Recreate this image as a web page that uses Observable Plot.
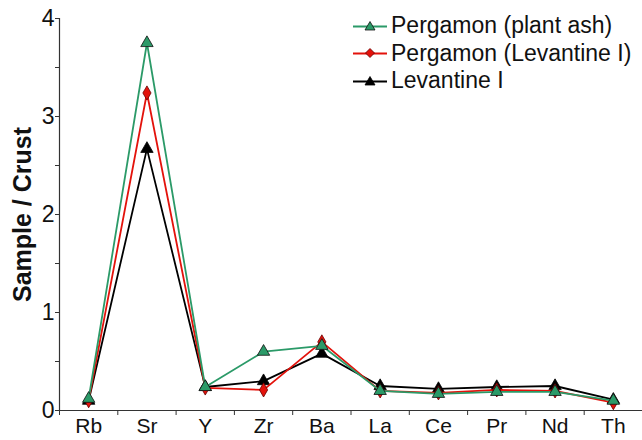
<!DOCTYPE html>
<html><head><meta charset="utf-8">
<script src="https://cdn.jsdelivr.net/npm/d3@7"></script>
<script src="https://cdn.jsdelivr.net/npm/@observablehq/plot@0.6"></script>
<style>
body{margin:0;background:#fff;font-family:"Liberation Sans",Arial,sans-serif;}
#wrap{position:relative;width:642px;height:440px;}
#legend{position:absolute;left:353px;top:12px;font-size:23px;color:#111;line-height:27.5px;}
#legend div{display:flex;align-items:center;white-space:nowrap;height:27.5px;}
#legend svg{margin-right:4px;}
</style></head>
<body><div id="wrap"><div id="legend"></div></div>
<script>
const elements = ["Rb","Sr","Y","Zr","Ba","La","Ce","Pr","Nd","Th"];
const plantAsh = [0.12,3.75,0.24,0.60,0.66,0.20,0.17,0.19,0.19,0.10];
const pergLev  = [0.10,3.24,0.23,0.21,0.70,0.20,0.18,0.21,0.20,0.08];
const levantine= [0.10,2.67,0.24,0.30,0.58,0.25,0.22,0.24,0.25,0.11];
const seriesNames = ["Pergamon (plant ash)","Pergamon (Levantine I)","Levantine I"];
const yTicks = [0,1,2,3,4];
const yMinor = [0.5,1.5,2.5,3.5];

const green="#2b9a68", red="#e3120b", black="#000";
const rows = (vals)=>vals.map((v,i)=>({i, v}));
const A=rows(plantAsh), B=rows(pergLev), C=rows(levantine);
const bounds = d3.range(elements.length+1).map(k=>k-0.5);

const chart = Plot.plot({
  width:642, height:440,
  marginLeft:59, marginRight:0, marginTop:18, marginBottom:30,
  x:{domain:[-0.5, elements.length-0.5]},
  y:{domain:[0,4]},
  style:{fontFamily:"Liberation Sans, Arial, sans-serif", color:"#111", background:"transparent"},
  marks:[
    Plot.ruleY([0],{x1:-0.5,x2:elements.length-0.5,stroke:"#333",strokeWidth:1.2}),
    Plot.ruleX([-0.5],{y1:0,y2:4,stroke:"#333",strokeWidth:1.2}),
    Plot.axisX(bounds,{tickSize:5,tickFormat:()=>"",label:null,stroke:"#333"}),
    Plot.axisX(d3.range(elements.length),{tickSize:0,tickPadding:8,tickFormat:i=>elements[i],fontSize:21,label:null}),
    Plot.axisY(yMinor,{tickSize:4,tickFormat:()=>"",label:null,stroke:"#333"}),
    Plot.axisY(yTicks,{tickSize:4,tickPadding:1,tickFormat:d3.format("d"),fontSize:23,label:null,stroke:"#333"}),
    Plot.text(["Sample / Crust"],{frameAnchor:"left",textAnchor:"middle",rotate:-90,dx:-37,fontSize:25,fontWeight:"bold",fill:"#111"}),
    Plot.line(C,{x:"i",y:"v",stroke:black,strokeWidth:1.8}),
    Plot.dot(C,{x:"i",y:"v",symbol:"triangle",r:4.6,fill:black,stroke:black,strokeWidth:0.8}),
    Plot.line(B,{x:"i",y:"v",stroke:red,strokeWidth:1.8}),
    Plot.dot(B,{x:"i",y:"v",symbol:"diamond",r:4.3,fill:red,stroke:"#600",strokeWidth:0.8}),
    Plot.line(A,{x:"i",y:"v",stroke:green,strokeWidth:1.8}),
    Plot.dot(A,{x:"i",y:"v",symbol:"triangle",r:4.6,fill:green,stroke:"#111",strokeWidth:0.8})
  ]
});
document.getElementById("wrap").prepend(chart);

const legendSpecs = [
  {name:seriesNames[0], color:green, sym:"tri", fill:green, stroke:"#111"},
  {name:seriesNames[1], color:red, sym:"dia", fill:red, stroke:"#600"},
  {name:seriesNames[2], color:black, sym:"tri", fill:black, stroke:black}
];
const leg = document.getElementById("legend");
for (const s of legendSpecs){
  const d = document.createElement("div");
  const shape = s.sym==="tri"
    ? `<path d="M17,4.5 L22,13 L12,13 Z" fill="${s.fill}" stroke="${s.stroke}" stroke-width="0.8"/>`
    : `<path d="M17,4.5 L21.5,9 L17,13.5 L12.5,9 Z" fill="${s.fill}" stroke="${s.stroke}" stroke-width="0.8"/>`;
  d.innerHTML = `<svg width="34" height="18"><line x1="0" y1="9.5" x2="34" y2="9.5" stroke="${s.color}" stroke-width="1.8"/>${shape}</svg><span>${s.name}</span>`;
  leg.appendChild(d);
}
</script></body></html>
